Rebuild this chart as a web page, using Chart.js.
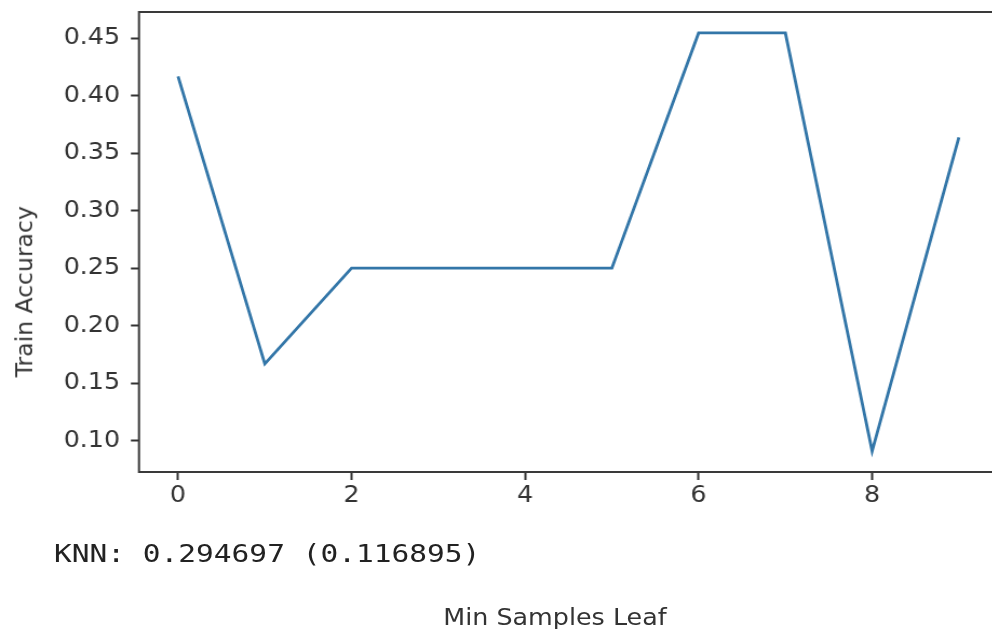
<!DOCTYPE html>
<html>
<head>
<meta charset="utf-8">
<script src="https://cdn.jsdelivr.net/npm/chart.js@4.4.1/dist/chart.umd.min.js"></script>
<style>
  html, body { margin: 0; padding: 0; background: #fff; overflow: hidden; }
  #page { position: relative; width: 992px; height: 629px; overflow: hidden; }
  #wrap {
    position: absolute; left: 0; top: 0; width: 926px; height: 629px;
    transform: scaleX(1.08); transform-origin: 0 0;
  }
  #knn {
    position: absolute; left: 54px; top: 541px;
    font-family: "DejaVu Sans Mono", monospace; font-size: 25px; line-height: 1;
    color: #222; white-space: pre;
    transform: scaleX(1.18); transform-origin: 0 0;
  }
  #ytitle, #xtitle {
    position: absolute; width: 400px;
    text-align: center; line-height: 1;
    font-family: "DejaVu Sans", sans-serif; font-size: 23.5px; color: #333;
    transform-origin: 50% 50%;
  }
  #ytitle { left: -175px; top: 280px; transform: rotate(-90deg); }
  #xtitle { left: 355px; top: 606px; transform: scaleX(1.08); }
</style>
</head>
<body>
<div id="page">
  <div id="wrap"><canvas id="chart"></canvas></div>
  <div id="ytitle">Train Accuracy</div>
  <div id="knn">KNN: 0.294697 (0.116895)</div>
  <div id="xtitle">Min Samples Leaf</div>
</div>
<script>
const minSamplesLeaf = [0, 1, 2, 3, 4, 5, 6, 7, 8, 9];
const trainAccuracy = [0.4167, 0.1667, 0.25, 0.25, 0.25, 0.25, 0.4545, 0.4545, 0.0909, 0.3636];
const xTicks = [0, 2, 4, 6, 8];
const yTicks = [0.10, 0.15, 0.20, 0.25, 0.30, 0.35, 0.40, 0.45];
const xLimits = [-0.45, 9.45];
const yLimits = [0.0727, 0.4727];

const tickFont = { family: "DejaVu Sans", size: 23.5 };
const ink = '#333';

// matplotlib-style box around the plot area
const spines = {
    id: 'spines',
    afterDraw: function (chart) {
        const a = chart.chartArea;
        const ctx = chart.ctx;
        ctx.save();
        ctx.strokeStyle = '#3a3a3a';
        ctx.lineWidth = 2;
        ctx.strokeRect(a.left, a.top, a.right - a.left, a.bottom - a.top);
        ctx.restore();
    }
};

new Chart(document.getElementById('chart').getContext('2d'), {
    type: 'line',
    plugins: [spines],
    data: {
        datasets: [{
            data: minSamplesLeaf.map((x, i) => ({ x: x, y: trainAccuracy[i] })),
            borderColor: '#3376a8',
            borderWidth: 2.8,
            pointRadius: 0,
            tension: 0,
            fill: false
        }]
    },
    options: {
        responsive: true,
        maintainAspectRatio: false,
        animation: false,
        layout: { padding: { top: 12, right: 2, left: 0, bottom: 0 } },
        plugins: {
            legend: { display: false },
            title: { display: false },
            tooltip: { enabled: false }
        },
        scales: {
            x: {
                type: 'linear',
                min: xLimits[0],
                max: xLimits[1],
                afterBuildTicks: function (scale) {
                    scale.ticks = xTicks.map(v => ({ value: v }));
                },
                afterFit: function (scale) {
                    scale.height = 157;
                    scale.paddingLeft = 0;
                    scale.paddingRight = 0;
                },
                border: { display: false },
                grid: {
                    drawOnChartArea: false,
                    drawTicks: true,
                    tickLength: 8,
                    tickWidth: 2,
                    tickColor: ink
                },
                ticks: {
                    color: ink,
                    font: tickFont,
                    padding: 2,
                    maxRotation: 0,
                    callback: v => String(v)
                }
            },
            y: {
                min: yLimits[0],
                max: yLimits[1],
                afterBuildTicks: function (scale) {
                    scale.ticks = yTicks.map(v => ({ value: v }));
                },
                afterFit: function (scale) {
                    scale.width = 128.7;
                    scale.paddingTop = 0;
                    scale.paddingBottom = 0;
                },
                border: { display: false },
                grid: {
                    drawOnChartArea: false,
                    drawTicks: true,
                    tickLength: 7.5,
                    tickWidth: 2,
                    tickColor: ink
                },
                ticks: {
                    color: ink,
                    font: tickFont,
                    padding: 10,
                    callback: v => v.toFixed(2)
                }
            }
        }
    }
});
</script>
</body>
</html>
